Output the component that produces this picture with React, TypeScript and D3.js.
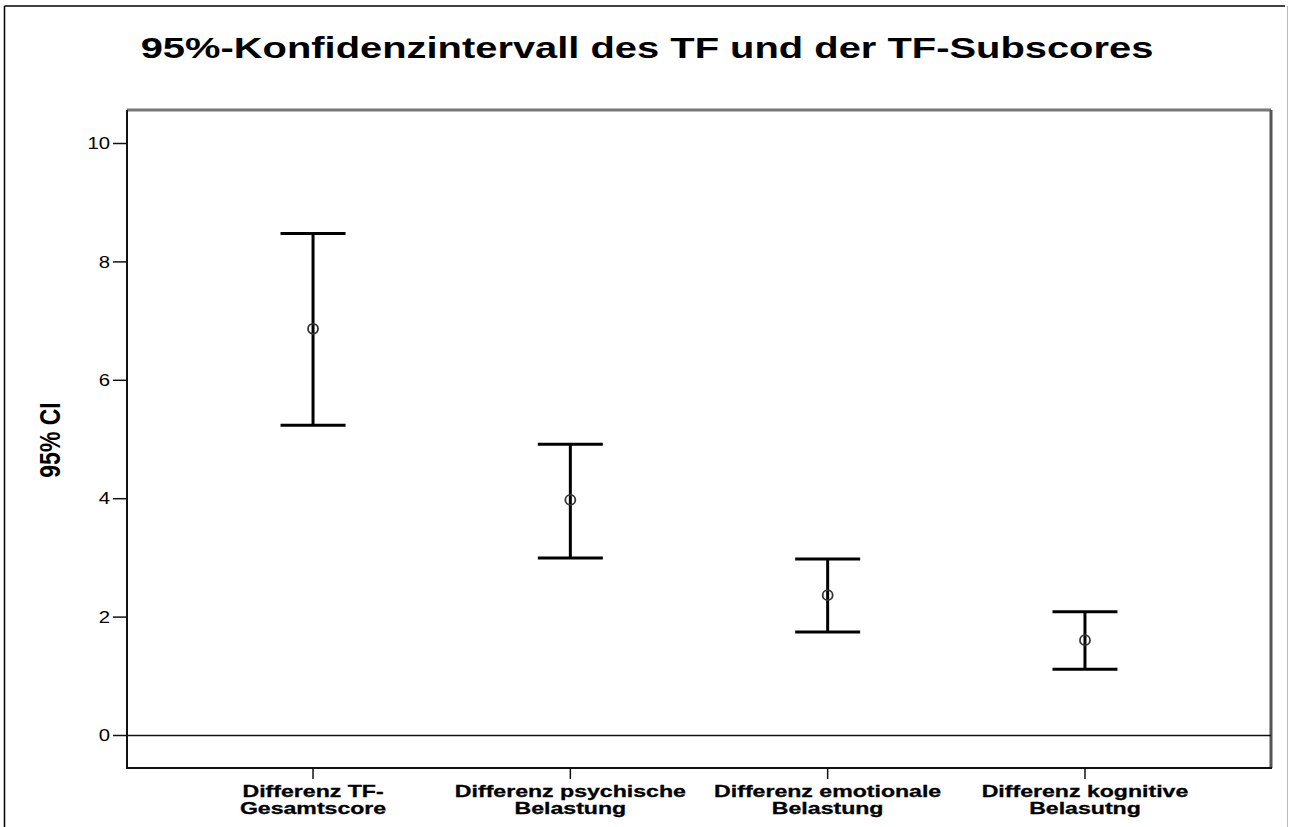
import React from "react";
import * as d3 from "d3";

const categories = [
  ["Differenz TF-", "Gesamtscore"],
  ["Differenz psychische", "Belastung"],
  ["Differenz emotionale", "Belastung"],
  ["Differenz kognitive", "Belasutng"],
];
const means = [6.87, 3.98, 2.37, 1.61];
const lower = [5.24, 3.0, 1.75, 1.12];
const upper = [8.48, 4.92, 2.98, 2.09];
const yTicks = [0, 2, 4, 6, 8, 10];
const title = "95%-Konfidenzintervall des TF und der TF-Subscores";
const yLabel = "95% CI";

const W = 1289;
const H = 827;
const left = 127;
const right = 1271;
const top = 110;
const bottom = 768;

export default function App() {
  const y = d3.scaleLinear().domain([0, 10]).range([735.5, 143.5]);
  const x = d3
    .scalePoint<number>()
    .domain(categories.map((_, i) => i))
    .range([left, right])
    .padding(0.723);
  const cap = 32.5;
  const font = "Arial, 'Liberation Sans', sans-serif";

  return (
    <svg
      width={W}
      height={H}
      style={{ position: "absolute", left: 0, top: 0, background: "#fff" }}
      fontFamily={font}
    >
      <rect x={0} y={0} width={W} height={H} fill="#fff" />
      {/* outer border */}
      <line x1={4.5} y1={6} x2={1285} y2={6} stroke="#000" strokeWidth={1.5} />
      <line x1={4.5} y1={6} x2={4.5} y2={H} stroke="#000" strokeWidth={1.5} />
      <line x1={1287.5} y1={6} x2={1287.5} y2={H} stroke="#bbb" strokeWidth={1} />

      {/* title */}
      <text
        transform={`translate(647,58) scale(1.33,1)`}
        textAnchor="middle"
        fontSize={30}
        fontWeight="bold"
        fill="#000"
      >
        {title}
      </text>

      {/* plot frame */}
      <line x1={left} y1={top} x2={right} y2={top} stroke="#777" strokeWidth={3} />
      <line x1={right} y1={top} x2={right} y2={bottom} stroke="#555" strokeWidth={3} />
      <line x1={left} y1={top} x2={left} y2={bottom + 1} stroke="#111" strokeWidth={2} />
      <line x1={left} y1={bottom} x2={right + 1} y2={bottom} stroke="#111" strokeWidth={2} />

      {/* zero line */}
      <line x1={left} y1={y(0)} x2={right} y2={y(0)} stroke="#111" strokeWidth={1.5} />

      {/* y ticks */}
      {yTicks.map((t) => (
        <g key={t}>
          <line x1={113} y1={y(t)} x2={left} y2={y(t)} stroke="#111" strokeWidth={1.5} />
          <text
            transform={`translate(110,${y(t)}) scale(1.27,1)`}
            textAnchor="end"
            dominantBaseline="central"
            fontSize={16}
            fill="#000"
          >
            {t}
          </text>
        </g>
      ))}

      {/* y label */}
      <text
        transform={`translate(60,440) scale(1.3,1) rotate(-90)`}
        textAnchor="middle"
        fontSize={23}
        fontWeight="bold"
        fill="#000"
      >
        {yLabel}
      </text>

      {/* x ticks and labels */}
      {categories.map((c, i) => (
        <g key={i}>
          <line x1={x(i)} y1={bottom} x2={x(i)} y2={779} stroke="#111" strokeWidth={1.5} />
          {c.map((line, j) => (
            <text
              key={j}
              transform={`translate(${x(i)},${797 + j * 17}) scale(1.4,1)`}
              textAnchor="middle"
              fontSize={16.5}
              fontWeight="bold"
              fill="#000"
              stroke="#000"
              strokeWidth={0.3}
            >
              {line}
            </text>
          ))}
        </g>
      ))}

      {/* error bars */}
      {categories.map((_, i) => {
        const cx = x(i) as number;
        return (
          <g key={i}>
            <line x1={cx} y1={y(upper[i])} x2={cx} y2={y(lower[i])} stroke="#000" strokeWidth={3} />
            <line x1={cx - cap} y1={y(upper[i])} x2={cx + cap} y2={y(upper[i])} stroke="#000" strokeWidth={3} />
            <line x1={cx - cap} y1={y(lower[i])} x2={cx + cap} y2={y(lower[i])} stroke="#000" strokeWidth={3} />
            <circle cx={cx} cy={y(means[i])} r={5} fill="none" stroke="#333" strokeWidth={1.8} />
          </g>
        );
      })}
    </svg>
  );
}
